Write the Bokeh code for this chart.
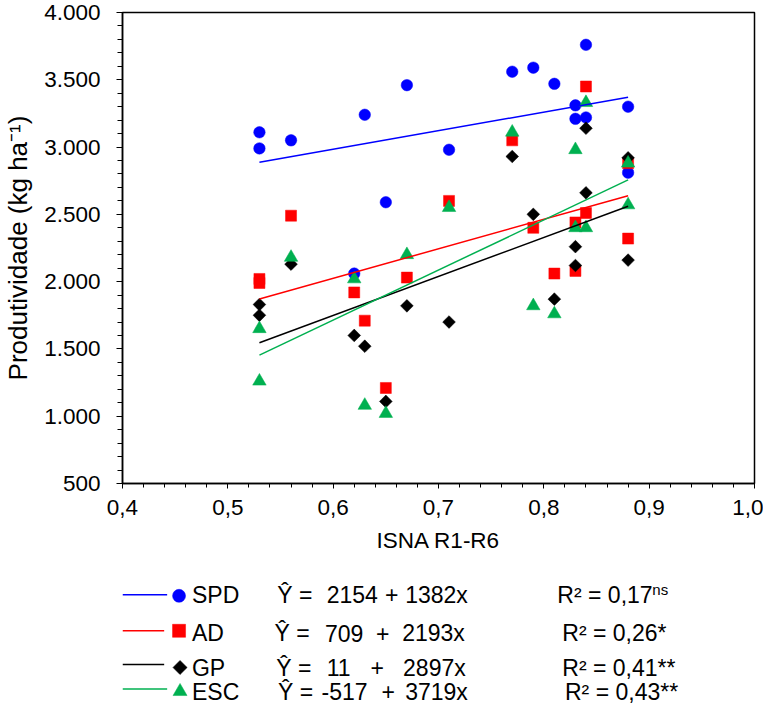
import numpy as np
from bokeh.plotting import figure
from bokeh.models import Range1d, CustomJSTickFormatter, FixedTicker
from bokeh.layouts import column
from bokeh.embed import file_html
from bokeh.resources import INLINE
from bokeh.core.properties import value

# ---------------- data ----------------
isna = [0.53, 0.53, 0.56, 0.62, 0.63, 0.65, 0.67, 0.71, 0.77, 0.79, 0.81,
        0.83, 0.83, 0.84, 0.84, 0.88, 0.88]
spd = [3110, 2990, 3050, 2060, 3240, 2590, 3460, 2980, 3560, 3590, 3470,
       3310, 3210, 3760, 3220, 3300, 2810]
ad = [2020, 1990, 2490, 1920, 1710, 1210, 2030, 2600, 3050, 2400, 2060,
      2440, 2080, 3450, 2510, 2880, 2320]
gp = [1830, 1750, 2130, 1600, 1520, 1110, 1820, 1700, 2930, 2500, 1870,
      2260, 2120, 3140, 2660, 2920, 2160]
esc = [1650, 1260, 2180, 2020, 1080, 1020, 2200, 2550, 3110, 1820, 1760,
       2980, 2400, 3330, 2400, 2880, 2570]

series_names = ["SPD", "AD", "GP", "ESC"]
intercepts = [2154, 709, 11, -517]
slopes = [1382, 2193, 2897, 3719]
r2_values = ["0,17", "0,26*", "0,41**", "0,43**"]
r2_sup = ["ns", "", "", ""]
fit_range = [0.53, 0.88]

x_ticks = [0.4, 0.5, 0.6, 0.7, 0.8, 0.9, 1.0]
y_ticks = [500, 1000, 1500, 2000, 2500, 3000, 3500, 4000]

# ---------------- styles ----------------
FONT = "Liberation Sans"
FS = "22.5px"
LFS = "23px"
colors = ["#0000FF", "#FF0000", "#000000", "#00B050"]
markers = ["circle", "square", "square", "triangle"]
angles = [0, 0, np.pi / 4, 0]
plot_sizes = [11.5, 11, 9, 13.5]
legend_sizes = [13, 13, 10, 14]

W = 763
BL, BR = 117, 9
p = figure(width=W, height=562, x_range=Range1d(0.4, 1.0), y_range=Range1d(500, 4000),
           output_backend="svg", toolbar_location=None,
           min_border_left=BL, min_border_right=BR, min_border_top=12, min_border_bottom=79)
p.grid.visible = False
p.outline_line_color = "black"
p.outline_line_width = 1.5
p.background_fill_color = "white"
p.border_fill_color = "white"

for ax in (p.xaxis[0], p.yaxis[0]):
    ax.axis_line_color = "black"
    ax.axis_line_width = 1.5
    ax.major_tick_line_color = "black"
    ax.minor_tick_line_color = "black"
    ax.major_tick_in = 0
    ax.minor_tick_in = 0
    ax.major_label_text_font = FONT
    ax.major_label_text_font_size = FS
    ax.major_label_text_color = "black"
    ax.axis_label_text_font = FONT
    ax.axis_label_text_font_size = FS
    ax.axis_label_text_font_style = "normal"
    ax.axis_label_text_color = "black"

p.xaxis.ticker = FixedTicker(ticks=x_ticks,
                             minor_ticks=[round(0.4 + 0.02 * i, 2) for i in range(31)])
p.yaxis.ticker = FixedTicker(ticks=y_ticks, minor_ticks=list(range(500, 4001, 100)))
p.xaxis.formatter = CustomJSTickFormatter(code="return tick.toFixed(1).replace('.', ',');")
p.yaxis.formatter = CustomJSTickFormatter(code="""
    if (tick >= 1000) {
        const t = Math.round(tick);
        return Math.floor(t / 1000) + '.' + String(t % 1000).padStart(3, '0');
    }
    return String(Math.round(tick));
""")
p.xaxis.major_tick_out = 5
p.xaxis.minor_tick_out = 4
p.yaxis.major_tick_out = 6
p.yaxis.minor_tick_out = 5
p.xaxis.major_label_standoff = 11
p.yaxis.major_label_standoff = 16
p.xaxis.axis_label = "ISNA R1-R6"
p.yaxis.axis_label = "Produtividade (kg ha\u207b\u00b9)"
p.yaxis.axis_label_text_font_size = "26px"
p.xaxis.axis_label_standoff = 10
p.yaxis.axis_label_standoff = 8

all_series = [spd, ad, gp, esc]
for ys, c, m, a, s in zip(all_series, colors, markers, angles, plot_sizes):
    p.scatter(isna, ys, marker=m, angle=a, size=s, fill_color=c, line_color=c, line_width=0.5)

fx = np.array(fit_range)
for a0, b1, c in zip(intercepts, slopes, colors):
    p.line(fx, a0 + b1 * fx, line_color=c, line_width=1.5)

# ---------------- legend block (below the chart) ----------------
# Same borders as the chart so the column's frame alignment keeps a 1:1 pixel mapping
LH = 142
q = figure(width=W, height=LH, x_range=Range1d(BL, W - BR), y_range=Range1d(LH, 0),
           output_backend="svg", toolbar_location=None,
           x_axis_location=None, y_axis_location=None,
           min_border_left=BL, min_border_right=BR, min_border_top=0, min_border_bottom=0)
q.grid.visible = False
q.outline_line_color = None
q.background_fill_color = "white"
q.border_fill_color = "white"

text_y = [32.0, 70.5, 105.0, 129.0]
line_y = [32.3, 68.3, 102.0, 126.4]
mark_y = [33.3, 68.3, 105.0, 129.0]
line_x0 = [117, 117, 117, 117]
line_x1 = [162, 159, 159, 162]
mark_x = [174, 174, 175, 175]
name_x = 187
yhat_x = [273.0, 270.3, 272.0, 273.7]
num_x = [322.8, 321.0, 322.8, 317.6]
plus_x = [381.5, 372.5, 367.0, 378.0]
coef_x = [401.9, 398.9, 399.8, 401.9]
r2_x = [555.3, 560.3, 560.3, 563.0]
sup_x = 651

txt = dict(text_font=value(FONT), text_font_size=value(LFS), text_color="black",
           text_baseline="middle", text_align="left")

for i in range(4):
    q.line([line_x0[i], line_x1[i]], [line_y[i], line_y[i]], line_color=colors[i], line_width=1.5)
    q.scatter([mark_x[i]], [mark_y[i]], marker=markers[i], angle=-angles[i],
              size=legend_sizes[i], fill_color=colors[i], line_color=colors[i], line_width=0.5)
    pieces_x = [name_x, yhat_x[i], num_x[i], plus_x[i], coef_x[i], r2_x[i]]
    pieces_t = [series_names[i], "\u0176 =", str(intercepts[i]), "+",
                f"{slopes[i]}x", f"R\u00b2 = {r2_values[i]}"]
    q.text(x=pieces_x, y=[text_y[i]] * len(pieces_x), text=pieces_t, **txt)
    if r2_sup[i]:
        q.text(x=[sup_x], y=[text_y[i] - 5], text=[r2_sup[i]],
               text_font=value(FONT), text_font_size=value("15px"), text_color="black",
               text_baseline="middle", text_align="left")

layout = column(p, q, spacing=0)
open("out.html", "w").write(file_html(layout, INLINE))
